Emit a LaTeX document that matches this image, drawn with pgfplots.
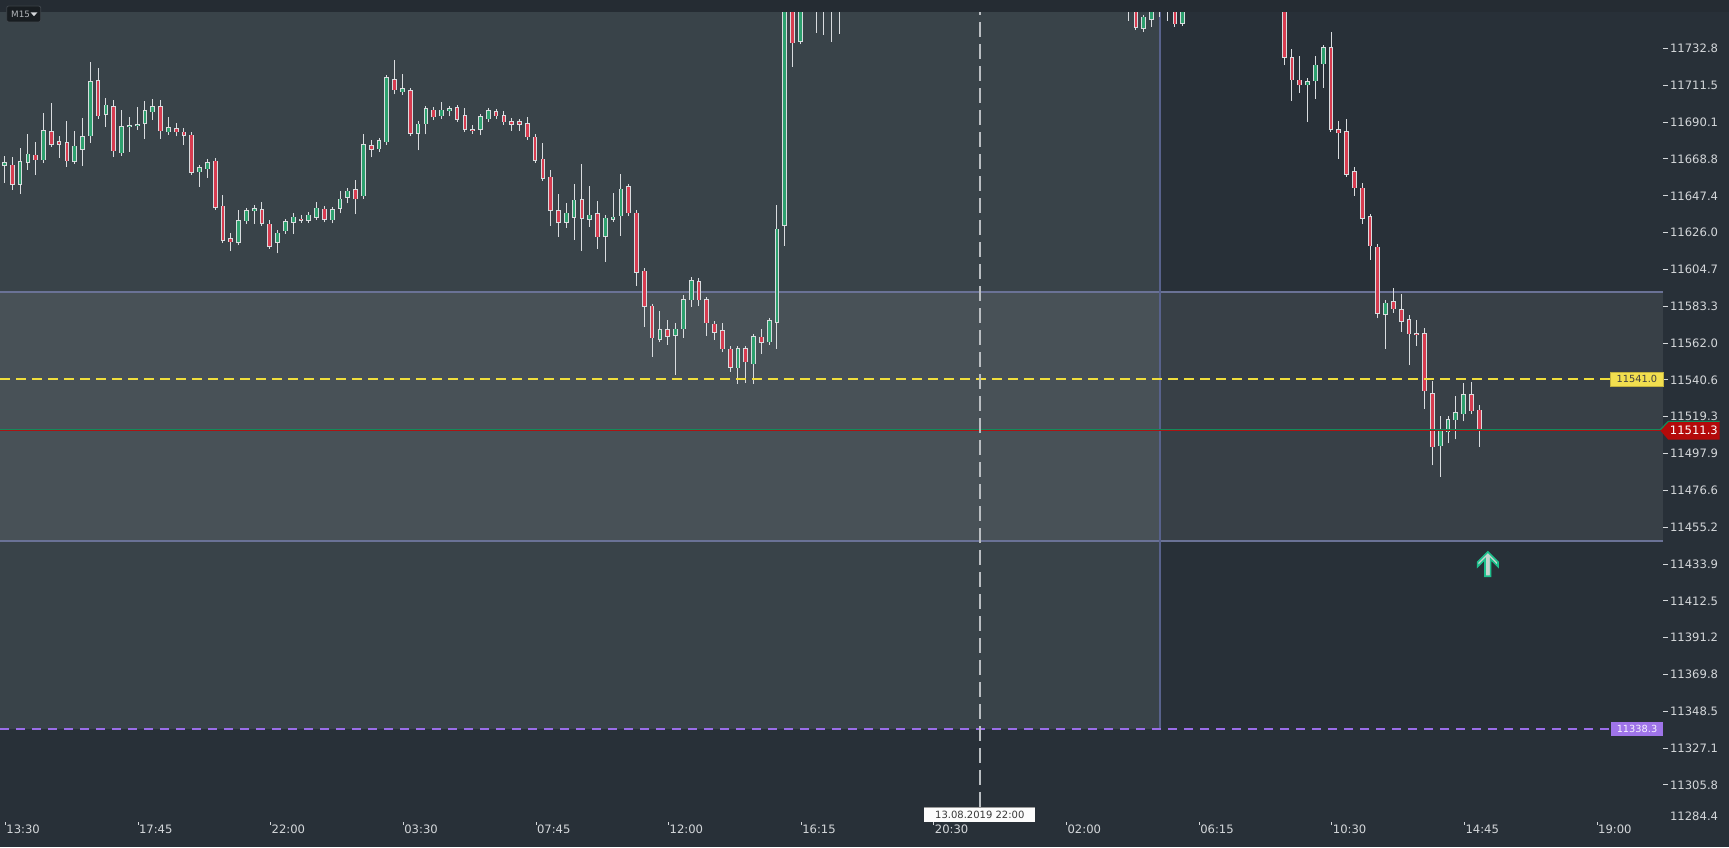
\documentclass[border=0pt]{standalone}
\usepackage{fontspec}
\setmainfont{DejaVu Sans}
\usepackage{pgfplots}
\usepackage{pgfplotstable}
\pgfplotsset{compat=1.18}

\definecolor{bgdark}{HTML}{283038}
\definecolor{bgleft}{HTML}{394349}
\definecolor{stripc}{HTML}{252C33}
\definecolor{zoneline}{HTML}{6A7296}
\definecolor{vline}{HTML}{58628C}
\definecolor{wickc}{HTML}{D9DCDF}
\definecolor{outc}{HTML}{D9DCDF}
\definecolor{greenc}{HTML}{2DA06E}
\definecolor{redc}{HTML}{D73C50}
\definecolor{yellowc}{HTML}{F0DE3C}
\definecolor{yellowlab}{HTML}{F2DF4F}
\definecolor{purplec}{HTML}{9A6DE8}
\definecolor{redline}{HTML}{AA1414}
\definecolor{redlab}{HTML}{B40A0A}
\definecolor{greenline}{HTML}{148A5A}
\definecolor{tickc}{HTML}{D4D7DA}
\definecolor{crossc}{HTML}{BABEC2}
\definecolor{arrowg}{HTML}{1DBF8C}
\definecolor{arrowin}{HTML}{C8D4CF}

\newcommand{\tl}{\fontsize{5.8pt}{6pt}\selectfont}
\newcommand{\xt}[1]{\rule[4.15pt]{0.45pt}{1.65pt}\hspace{0.3pt}#1}

\pgfdeclareplotmark{uparr}{%
 \pgfpathmoveto{\pgfpoint{0pt}{6.1pt}}%
 \pgfpathlineto{\pgfpoint{5.1pt}{1.0pt}}%
 \pgfpathlineto{\pgfpoint{5.1pt}{-1.3pt}}%
 \pgfpathlineto{\pgfpoint{1.4pt}{2.4pt}}%
 \pgfpathlineto{\pgfpoint{1.4pt}{-6.1pt}}%
 \pgfpathlineto{\pgfpoint{-1.4pt}{-6.1pt}}%
 \pgfpathlineto{\pgfpoint{-1.4pt}{2.4pt}}%
 \pgfpathlineto{\pgfpoint{-5.1pt}{-1.3pt}}%
 \pgfpathlineto{\pgfpoint{-5.1pt}{1.0pt}}%
 \pgfpathclose
 \pgfusepathqfillstroke}

\pgfplotstableread{
x o h l c
0 11664.9 11670.5 11655.0 11666.8
2 11654.0 11674.9 11648.6 11667.4
3 11666.8 11683.0 11662.4 11672.0
5 11668.0 11695.2 11667.5 11685.4
9 11667.4 11684.8 11665.8 11676.7
10 11674.3 11692.3 11664.9 11681.9
11 11681.9 11725.0 11678.2 11713.8
13 11694.6 11703.9 11687.5 11700.4
15 11672.0 11697.0 11671.8 11687.7
16 11687.1 11692.9 11673.0 11688.3
17 11687.7 11698.7 11685.7 11688.8
18 11689.4 11702.4 11680.5 11697.0
19 11695.8 11703.3 11691.5 11699.3
21 11684.2 11692.9 11683.0 11687.1
25 11661.0 11664.9 11652.7 11663.9
26 11662.7 11668.5 11657.9 11666.8
30 11620.4 11639.0 11618.7 11633.2
31 11632.6 11639.6 11631.4 11639.0
32 11638.4 11641.9 11630.9 11640.1
35 11620.4 11626.8 11614.0 11626.2
36 11626.8 11633.2 11626.2 11632.6
37 11632.0 11637.2 11625.1 11635.5
39 11633.2 11636.8 11632.6 11636.7
40 11634.9 11643.6 11634.7 11640.7
42 11633.2 11640.1 11631.4 11639.6
43 11640.1 11650.0 11637.2 11645.9
44 11646.5 11650.6 11643.0 11650.6
46 11647.1 11683.0 11646.9 11677.2
48 11674.3 11679.8 11673.8 11679.6
49 11678.4 11716.3 11678.2 11716.1
51 11707.4 11717.8 11707.2 11709.7
53 11683.6 11689.6 11673.8 11689.4
54 11688.8 11699.3 11683.0 11698.1
56 11693.5 11701.6 11692.9 11697.5
57 11696.4 11698.7 11693.5 11698.1
61 11685.9 11693.7 11682.5 11693.5
62 11691.7 11697.5 11691.2 11697.0
72 11632.0 11643.0 11628.9 11637.8
73 11634.9 11654.0 11622.0 11645.4
75 11633.8 11652.9 11629.5 11636.7
77 11623.7 11635.5 11609.2 11634.9
78 11633.8 11648.8 11632.4 11635.5
79 11635.5 11659.8 11624.3 11651.7
84 11563.8 11580.6 11563.4 11570.0
86 11566.3 11573.4 11543.5 11570.5
87 11570.0 11589.9 11565.1 11587.4
88 11586.8 11600.1 11583.1 11598.4
94 11547.4 11560.1 11538.5 11559.0
96 11549.7 11566.7 11538.5 11565.9
98 11562.4 11576.3 11561.7 11575.2
99 11574.0 11642.1 11558.8 11628.5
100 11630.1 11805.0 11618.5 11795.0
102 11736.8 11790.0 11736.2 11780.0
104 11768.0 11790.0 11742.0 11780.0
106 11766.0 11785.0 11736.8 11778.0
146 11744.3 11751.7 11742.6 11751.1
147 11749.5 11770.0 11745.5 11762.0
148 11754.0 11770.0 11751.3 11754.6
149 11760.0 11775.0 11748.9 11770.0
151 11747.2 11772.0 11746.4 11768.0
167 11711.5 11715.5 11690.4 11713.8
168 11713.8 11728.5 11703.7 11723.6
169 11723.6 11734.6 11710.1 11733.5
177 11578.7 11587.0 11558.8 11585.6
184 11502.1 11519.5 11484.5 11512.0
185 11510.2 11519.5 11503.9 11517.8
186 11517.2 11531.1 11506.2 11521.8
187 11520.7 11538.7 11516.6 11532.3
}\greentab

\pgfplotstableread{
x o h l c
1 11665.3 11669.9 11650.8 11654.0
4 11671.4 11678.4 11659.7 11668.0
6 11684.8 11701.0 11677.0 11677.2
7 11679.0 11682.1 11669.5 11677.2
8 11678.4 11690.6 11664.3 11667.4
12 11714.4 11721.3 11693.3 11693.5
14 11699.3 11702.8 11670.1 11673.2
20 11699.3 11702.8 11680.5 11684.8
22 11686.5 11689.4 11681.9 11684.2
23 11684.8 11686.6 11677.0 11682.5
24 11683.0 11683.6 11660.8 11661.0
27 11668.0 11668.2 11639.6 11640.7
28 11641.9 11647.7 11621.0 11621.6
29 11622.7 11625.6 11615.2 11620.4
33 11639.6 11643.6 11630.9 11631.4
34 11631.4 11633.2 11617.9 11618.1
38 11634.3 11636.1 11632.0 11633.2
41 11640.1 11641.3 11632.0 11633.8
45 11651.2 11656.4 11636.7 11645.4
47 11676.7 11679.6 11669.7 11674.3
50 11714.9 11725.9 11706.2 11708.6
52 11708.6 11708.8 11681.9 11683.6
55 11697.5 11698.1 11691.7 11692.9
58 11698.7 11699.9 11691.5 11691.7
59 11694.1 11698.1 11685.7 11685.9
60 11685.9 11688.3 11683.6 11684.8
63 11696.4 11697.5 11692.9 11693.5
64 11694.1 11696.4 11688.8 11690.0
65 11690.6 11692.3 11685.2 11688.8
66 11690.6 11690.8 11685.2 11688.8
67 11689.4 11692.9 11680.7 11681.3
68 11681.9 11682.1 11667.8 11668.0
69 11669.1 11677.8 11657.3 11657.5
70 11658.7 11662.2 11630.1 11639.0
71 11639.0 11648.3 11623.7 11632.0
74 11645.4 11665.6 11615.6 11634.3
76 11637.2 11644.2 11616.7 11623.3
80 11652.9 11654.0 11636.7 11637.2
81 11637.8 11638.0 11595.3 11603.0
82 11604.0 11605.3 11571.5 11583.1
83 11583.5 11583.6 11554.1 11564.8
85 11570.0 11575.4 11560.9 11565.7
89 11597.8 11599.5 11583.7 11586.8
90 11587.4 11587.6 11566.3 11573.3
91 11573.4 11574.4 11564.0 11568.2
92 11569.4 11573.4 11558.2 11558.4
93 11559.0 11559.5 11545.4 11547.9
95 11559.0 11559.2 11539.0 11550.8
97 11565.9 11570.2 11555.9 11562.4
101 11795.0 11810.0 11722.3 11735.8
103 11785.0 11800.0 11770.0 11775.0
105 11785.0 11792.0 11740.8 11770.0
107 11780.0 11790.0 11741.4 11765.0
144 11775.0 11780.0 11748.9 11762.0
145 11768.0 11775.0 11744.7 11744.9
150 11768.0 11772.0 11745.5 11747.0
164 11790.0 11795.0 11723.2 11727.7
165 11727.7 11732.3 11702.6 11714.4
166 11714.9 11728.5 11707.2 11711.5
170 11733.5 11742.4 11685.7 11685.9
171 11685.9 11690.6 11668.9 11683.6
172 11684.8 11691.7 11659.6 11659.8
173 11661.6 11663.9 11647.5 11651.7
174 11652.3 11654.6 11630.9 11634.3
175 11635.5 11636.7 11610.2 11618.1
176 11618.1 11618.3 11576.3 11579.2
178 11586.2 11593.7 11579.6 11581.6
179 11581.6 11590.5 11568.6 11574.6
180 11575.8 11578.1 11549.1 11567.1
181 11567.7 11575.2 11560.5 11566.5
182 11567.7 11570.5 11524.0 11534.0
183 11532.9 11539.8 11491.1 11501.5
188 11532.3 11539.2 11522.2 11522.4
189 11523.6 11525.9 11501.9 11511.3
}\redtab

\begin{document}
\begin{tikzpicture}
\fill[bgdark] (0,0) rectangle (864.5pt,423.5pt);
\path[use as bounding box] (0,0) rectangle (864.5pt,423.5pt);
\begin{axis}[
  at={(0,0)}, anchor=south west,
  scale only axis, width=831.5pt, height=423.5pt,
  xmin=-0.577, xmax=212.55, ymin=11269.81, ymax=11760.93,
  axis background/.style={fill=bgdark},
  axis x line*=bottom, axis y line*=right,
  axis line style={draw=none},
  xtick={0,17,...,204},
  xticklabels={\xt{13:30},\xt{17:45},\xt{22:00},\xt{03:30},\xt{07:45},\xt{12:00},\xt{16:15},\xt{20:30},\xt{02:00},\xt{06:15},\xt{10:30},\xt{14:45},\xt{19:00}},
  xtick style={draw=none}, xtick align=inside,
  xticklabel style={anchor=base west, inner sep=0pt, yshift=6.85pt, font=\tl, text=tickc},
  ytick={11732.8,11711.5,11690.1,11668.8,11647.4,11626.0,11604.7,11583.3,11562.0,11540.6,11519.3,11497.9,11476.6,11455.2,11433.9,11412.5,11391.2,11369.8,11348.5,11327.1,11305.8},
  yticklabels={11732.8,11711.5,11690.1,11668.8,11647.4,11626.0,11604.7,11583.3,11562.0,11540.6,11519.3,11497.9,11476.6,11455.2,11433.9,11412.5,11391.2,11369.8,11348.5,11327.1,11305.8},
  ytick align=outside, major tick length=2.5pt,
  ytick style={draw=tickc, line width=0.5pt},
  yticklabel style={anchor=west, inner sep=0pt, xshift=0.85pt, font=\tl, text=tickc},
  extra y ticks={11287.8}, extra y tick labels={11284.4},
  extra y tick style={ytick style={draw=none}},
  clip=true,
]
% backgrounds
\fill[bgleft] (axis cs:-0.577,11338.3) rectangle (axis cs:148.08,11760.93);
\fill[white, fill opacity=0.08] (axis cs:-0.577,11447.0) rectangle (axis cs:212.55,11591.5);
\draw[zoneline, line width=1pt] (axis cs:-0.577,11591.5) -- (axis cs:212.55,11591.5);
\draw[zoneline, line width=1pt] (axis cs:-0.577,11447.0) -- (axis cs:212.55,11447.0);
\draw[vline, line width=1pt] (axis cs:148.08,11338.3) -- (axis cs:148.08,11760.93);

% wicks
\addplot[draw=none, error bars/.cd, y dir=plus, y explicit, error mark=none,
  error bar style={draw=wickc, line width=0.5pt}]
  table[x=x, y=l, y error plus expr=\thisrow{h}-\thisrow{l}] {\greentab};
\addplot[draw=none, error bars/.cd, y dir=plus, y explicit, error mark=none,
  error bar style={draw=wickc, line width=0.5pt}]
  table[x=x, y=l, y error plus expr=\thisrow{h}-\thisrow{l}] {\redtab};
% body outlines
\addplot[draw=none, error bars/.cd, y dir=both, y explicit,
  error bar style={draw=outc, line width=2.35pt},
  error mark=-, error mark options={draw=outc, line width=0.5pt, mark size=1.175pt}]
  table[x=x, y expr=(\thisrow{o}+\thisrow{c})/2, y error expr=(\thisrow{c}-\thisrow{o})/2] {\greentab};
\addplot[draw=none, error bars/.cd, y dir=both, y explicit,
  error bar style={draw=outc, line width=2.35pt},
  error mark=-, error mark options={draw=outc, line width=0.5pt, mark size=1.175pt}]
  table[x=x, y expr=(\thisrow{o}+\thisrow{c})/2, y error expr=(\thisrow{o}-\thisrow{c})/2] {\redtab};
% body fills
\addplot[draw=none, error bars/.cd, y dir=plus, y explicit, error mark=none,
  error bar style={draw=greenc, line width=1.35pt, shorten <=0.25pt, shorten >=0.25pt}]
  table[x=x, y=o, y error plus expr=\thisrow{c}-\thisrow{o}] {\greentab};
\addplot[draw=none, error bars/.cd, y dir=plus, y explicit, error mark=none,
  error bar style={draw=redc, line width=1.35pt, shorten <=0.25pt, shorten >=0.25pt}]
  table[x=x, y=c, y error plus expr=\thisrow{o}-\thisrow{c}] {\redtab};

% level lines
\addplot[yellowc, line width=1pt, dash pattern=on 5pt off 3pt] coordinates {(-0.577,11541.0) (205.97,11541.0)};
\addplot[purplec, line width=1pt, dash pattern=on 4.5pt off 3.5pt] coordinates {(-0.577,11338.3) (206.0,11338.3)};
\addplot[greenline, line width=0.5pt] coordinates {(-0.577,11512.0) (212.2,11512.0)};
\addplot[redline, line width=0.5pt] coordinates {(-0.577,11511.3) (212.2,11511.3)};
% crosshair
\addplot[crossc, line width=0.9pt, dash pattern=on 7.5pt off 3.5pt] coordinates {(125.05,11760.93) (125.05,11292.99)};
% signal arrow
\addplot[only marks, mark=uparr, mark options={fill=arrowin, draw=arrowg, line width=0.8pt, line join=miter}] coordinates {(190.1,11433.9)};

\coordinate (rp) at (axis cs:212.2,11511.3);
\coordinate (yl) at (axis cs:212.55,11541.0);
\coordinate (pl) at (axis cs:212.55,11338.3);
\end{axis}
% top strip
\fill[stripc] (0,417.5pt) rectangle (864.5pt,423.5pt);
% M15 box
\filldraw[fill=black!35!stripc, draw=white!12!stripc, line width=0.4pt, rounded corners=1pt] (3.35pt,412.5pt) rectangle (20.35pt,420.5pt);
\node[anchor=west, inner sep=0pt, text=tickc!80!stripc, font=\fontsize{4.4pt}{5pt}\selectfont] at (5.4pt,416.5pt) {M15};
\fill[tickc] (15.3pt,417.3pt) -- (18.7pt,417.3pt) -- (17.0pt,415.4pt) -- cycle;
% yellow label
\filldraw[fill=yellowlab, draw=yellowlab!80!black, line width=0.3pt] ([xshift=-26.15pt,yshift=-3.67pt]yl) rectangle ([yshift=3.67pt]yl);
\node[inner sep=0pt, text=black!75, font=\fontsize{4.9pt}{5pt}\selectfont] at ([xshift=-13.07pt]yl) {11541.0};
% purple label
\fill[purplec!95!white] ([xshift=-26pt,yshift=-3.5pt]pl) rectangle ([yshift=3.5pt]pl);
\node[inner sep=0pt, text=white!92!purplec, font=\fontsize{4.9pt}{5pt}\selectfont] at ([xshift=-13pt]pl) {11338.3};
% red price label
\fill[redlab] (rp) -- ++(4pt,4.575pt) -- ++(25.65pt,0) -- ++(0,-9.15pt) -- ++(-25.65pt,0) -- cycle;
\draw[greenline, line width=0.6pt] (rp) ++(0,0.35pt) -- ++(4pt,4.225pt) -- ++(25.65pt,0);
\node[inner sep=0pt, text=white, font=\fontsize{5.8pt}{6pt}\selectfont] at ([xshift=16.8pt]rp) {11511.3};
% crosshair date label
\fill[white!93!tickc] (462.15pt,12.65pt) rectangle (517.65pt,19.85pt);
\draw[black!40, line width=0.4pt] (462.15pt,19.85pt) -- (517.65pt,19.85pt);
\node[inner sep=0pt, text=black!78, font=\fontsize{5pt}{5pt}\selectfont] at (489.9pt,16.25pt) {13.08.2019 22:00};
\end{tikzpicture}
\end{document}
